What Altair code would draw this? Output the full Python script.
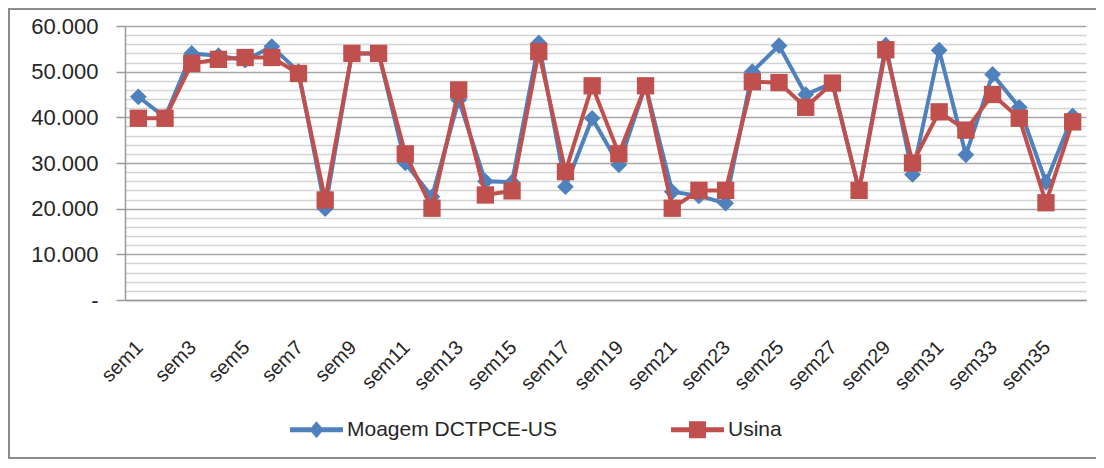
import altair as alt
import pandas as pd

weeks = [f"sem{i}" for i in range(1, 37)]
label_weeks = [f"sem{i}" for i in range(1, 37, 2)]

moagem = [44500, 40000, 54000, 53500, 52500, 55500, 50000, 20000, 54000, 54000,
          30000, 22600, 43800, 26000, 25800, 56300, 24800, 39800, 29600, 47000,
          23700, 22800, 21200, 50000, 55700, 45000, 47500, 24000, 55800, 27500,
          54700, 31800, 49400, 42200, 25800, 40300]
usina = [39800, 39800, 51800, 52700, 53100, 53100, 49600, 21900, 54000, 54000,
         32000, 20100, 46000, 23000, 23900, 54400, 28100, 46900, 32000, 46900,
         20100, 24000, 24000, 47800, 47600, 42200, 47500, 24000, 54800, 30000,
         41200, 37200, 45000, 39800, 21300, 39000]

series_names = ["Moagem DCTPCE-US", "Usina"]
series_colors = ["#4F81BD", "#C0504D"]

rows = []
for w, v in zip(weeks, moagem):
    rows.append({"week": w, "series": series_names[0], "value": v})
for w, v in zip(weeks, usina):
    rows.append({"week": w, "series": series_names[1], "value": v})
df = pd.DataFrame(rows)

FONT = "Liberation Sans"
TXT = "#262626"

x_enc = alt.X(
    "week:N", sort=weeks, title=None,
    axis=alt.Axis(values=label_weeks, labelAngle=-45, labelAlign="right",
                  labelBaseline="middle", labelPadding=44, labelOffset=1,
                  ticks=False, tickSize=0, grid=False,
                  domainColor="#9a9a9a", domainWidth=1.5,
                  labelFont=FONT, labelFontSize=20, labelColor=TXT,
                  labelOverlap=False, labelBound=False),
)
major = "datum.value % 10000 === 0"
y_enc = alt.Y(
    "value:Q", title=None,
    scale=alt.Scale(domain=[0, 60000], nice=False, zero=True),
    axis=alt.Axis(values=list(range(0, 60001, 2000)),
                  labelExpr="datum.value % 10000 !== 0 ? '' : (datum.value === 0 ? '-\u00a0\u00a0' : replace(format(datum.value, ',.0f'), ',', '.'))",
                  grid=True,
                  gridColor={"condition": {"test": major, "value": "#a6a6a6"}, "value": "#d4d4d4"},
                  gridWidth=1.3,
                  tickOpacity={"condition": {"test": major, "value": 1}, "value": 0},
                  tickColor="#9a9a9a", tickSize=9, tickWidth=1.5,
                  domainColor="#9a9a9a", domainWidth=1.5,
                  labelPadding=18, labelFont=FONT, labelFontSize=22,
                  labelColor=TXT, labelOverlap=False),
)

base = alt.Chart(df).encode(x=x_enc, y=y_enc)

def series_layers(name, color, shape, size):
    sub = base.transform_filter(alt.datum.series == name)
    line = sub.mark_line(strokeWidth=4, color=color)
    pts = sub.mark_point(shape=shape, filled=True, size=size, opacity=1,
                         color=color, strokeWidth=0)
    return [line, pts]

legend_def = alt.Legend(
    title=None, orient="none", legendX=165, legendY=377, direction="horizontal",
    symbolSize=2809, symbolStrokeWidth=0, symbolOpacity=1,
    labelFont=FONT, labelFontSize=21, labelColor=TXT, labelOffset=4,
    labelLimit=400, columnPadding=113,
)
blue_sym = "M-1,-0.094L1,-0.094L1,0.094L-1,0.094Z M-0.27,0L0,-0.32L0.27,0L0,0.32Z"
red_sym = "M-1,-0.094L1,-0.094L1,0.094L-1,0.094Z M-0.32,-0.32L0.32,-0.32L0.32,0.32L-0.32,0.32Z"

legend_layer = base.mark_point(filled=True, opacity=0).encode(
    fill=alt.Fill("series:N", scale=alt.Scale(domain=series_names, range=series_colors),
                  legend=legend_def),
    shape=alt.Shape("series:N", scale=alt.Scale(domain=series_names, range=[blue_sym, red_sym]),
                    legend=legend_def),
)

border = alt.Chart(pd.DataFrame({"k": [0]})).mark_rect(
    fillOpacity=0, stroke="#8c8c8c", strokeWidth=2
).encode(x=alt.value(-116), x2=alt.value(1000), y=alt.value(-17), y2=alt.value(432))

layers = [border]
layers += series_layers(series_names[0], series_colors[0], "diamond", 280)
layers += series_layers(series_names[1], series_colors[1], "square", 300)
layers.append(legend_layer)

chart = alt.layer(*layers).properties(
    width=961, height=274,
    autosize=alt.AutoSizeParams(type="none"),
    padding={"left": 117, "top": 18, "right": 10, "bottom": 160},
).configure_view(stroke=None)

chart.save("out.html", embed_options={"renderer": "svg", "actions": False})
